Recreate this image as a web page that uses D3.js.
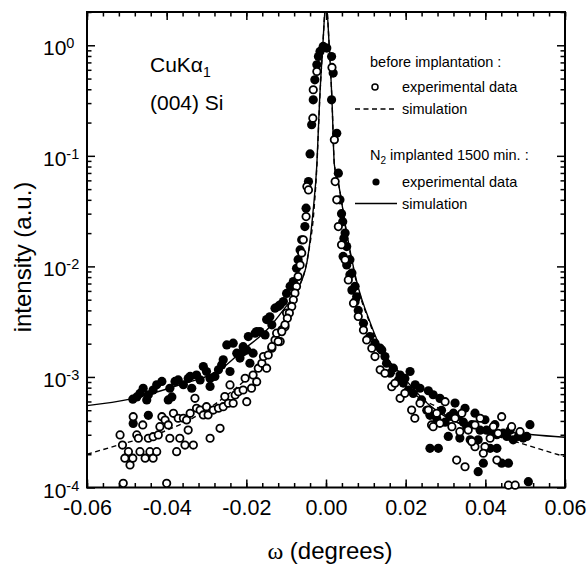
<!DOCTYPE html>
<html>
<head>
<meta charset="utf-8">
<script src="https://cdn.jsdelivr.net/npm/d3@7"></script>
<style>
  body { margin: 0; background: #fff; }
  text { font-family: Arial, "Liberation Sans", Helvetica, sans-serif; fill: #000; }
</style>
</head>
<body>
<div id="chart"></div>
<script>
// measured points, [omega (deg), intensity (a.u.)]
const implantedPoints = [
    [-0.0485, 6.3e-4], [-0.0475, 6.6e-4], [-0.0467, 7.1e-4], [-0.0459, 7.9e-4], [-0.0450, 6.2e-4],
    [-0.0446, 6.9e-4], [-0.0434, 7.6e-4], [-0.0425, 8.5e-4], [-0.0412, 9.1e-4], [-0.0396, 6.2e-4],
    [-0.0387, 6.6e-4], [-0.0392, 7.9e-4], [-0.0379, 9.1e-4], [-0.0371, 9.4e-4], [-0.0358, 8.5e-4],
    [-0.0346, 9.7e-4], [-0.0337, 7.9e-4], [-0.0341, 1.01e-3], [-0.0325, 1.04e-3], [-0.0316, 9.4e-4],
    [-0.0308, 1.24e-3], [-0.0300, 1.12e-3], [-0.0291, 9.7e-4], [-0.0291, 8.2e-4], [-0.0279, 1.01e-3],
    [-0.0270, 1.16e-3], [-0.0262, 1.28e-3], [-0.0258, 1.43e-3], [-0.0249, 1.95e-3], [-0.0241, 1.12e-3],
    [-0.0233, 2.02e-3], [-0.0224, 1.64e-3], [-0.0216, 1.48e-3], [-0.0208, 1.69e-3], [-0.0199, 1.75e-3],
    [-0.0191, 1.33e-3], [-0.0183, 1.64e-3], [-0.0178, 2.49e-3], [-0.0166, 2.57e-3], [-0.0153, 2.40e-3],
    [-0.0136, 2.96e-3], [-0.0128, 4.19e-3], [-0.0115, 4.49e-3], [-0.0107, 4.81e-3], [-0.0446, 4.5e-4],
    [-0.0484, 3.8e-4],
    [-0.0040, 0.104], [-0.0044, 5.85e-2], [-0.0050, 3.36e-2], [-0.0053, 2.29e-2], [-0.0061, 1.74e-2],
    [-0.0065, 1.41e-2], [-0.0070, 1.15e-2], [-0.0074, 9.6e-3], [-0.0082, 7.3e-3], [-0.0090, 6.6e-3],
    [-0.0099, 5.7e-3], [-0.0120, 4.34e-3], [-0.0141, 3.5e-3], [-0.0149, 3.3e-3], [-0.0174, 2.57e-3],
    [-0.0195, 2.32e-3], [-0.0208, 1.88e-3],
    [-0.0007, 0.976], [0.0002, 0.943], [-0.0015, 0.879], [-0.0019, 0.792], [0.0014, 0.792],
    [-0.0023, 0.666], [0.0018, 0.560], [-0.0028, 0.487], [-0.0032, 0.321], [0.0014, 0.321],
    [-0.0036, 0.191], [0.0027, 0.160],
    [0.0031, 6.97e-2], [0.0035, 4.0e-2], [0.0042, 2.54e-2], [0.0048, 2.0e-2], [0.0052, 1.51e-2],
    [0.0060, 1.15e-2], [0.0065, 8.7e-3], [0.0073, 6.6e-3], [0.0077, 5.3e-3], [0.0039, 3.0e-2],
    [0.0045, 1.8e-2], [0.0043, 1.23e-2], [0.0052, 1.03e-2], [0.0060, 8.4e-3], [0.0065, 6.1e-3],
    [0.0073, 4.8e-3], [0.0081, 4.0e-3], [0.0094, 3.06e-3], [0.0110, 2.32e-3], [0.0123, 2.02e-3],
    [0.0136, 1.82e-3], [0.0140, 1.75e-3], [0.0152, 1.33e-3], [0.0161, 1.08e-3], [0.0182, 9.4e-4],
    [0.0194, 8.8e-4], [0.0211, 1.12e-3], [0.0207, 7.6e-4], [0.0219, 7.1e-4], [0.0236, 7.9e-4],
    [0.0257, 7.5e-4], [0.0240, 6.2e-4], [0.0253, 5.0e-4], [0.0261, 4.5e-4], [0.0278, 4.2e-4],
    [0.0290, 5.0e-4], [0.0299, 3.9e-4], [0.0311, 4.4e-4], [0.0320, 4.7e-4], [0.0332, 4.4e-4],
    [0.0345, 3.9e-4], [0.0353, 3.55e-4], [0.0366, 3.7e-4], [0.0307, 2.9e-4], [0.0336, 2.8e-4],
    [0.0362, 2.7e-4], [0.0382, 2.7e-4], [0.0387, 3.3e-4], [0.0403, 3.3e-4], [0.0416, 3.1e-4],
    [0.0429, 3.0e-4], [0.0445, 3.1e-4], [0.0454, 2.9e-4], [0.0470, 2.7e-4], [0.0483, 2.9e-4],
    [0.0495, 2.8e-4], [0.0504, 2.9e-4], [0.0512, 3.7e-4], [0.0261, 2.26e-4], [0.0282, 2.26e-4],
    [0.0412, 2.26e-4], [0.0429, 2.26e-4], [0.0395, 1.66e-4], [0.0382, 1.39e-4], [0.0441, 1.66e-4],
    [0.0458, 1.66e-4], [0.0508, 1.13e-4],
    [0.0148, 1.53e-3], [0.0169, 1.20e-3], [0.0186, 1.04e-3], [0.0198, 9.7e-4], [0.0224, 8.5e-4],
    [0.0269, 6.9e-4], [0.0286, 6.4e-4], [0.0324, 5.8e-4], [0.0349, 5.2e-4], [0.0374, 4.7e-4],
    [0.0399, 4.1e-4], [0.0424, 3.7e-4], [0.0462, 3.3e-4], [0.0487, 3.1e-4]
]

const beforePoints = [
    [-0.0517, 2.99e-4], [-0.0511, 2.42e-4], [-0.0496, 2.11e-4], [-0.0505, 1.84e-4], [-0.0492, 1.60e-4],
    [-0.0485, 1.84e-4], [-0.0484, 4.37e-4], [-0.0475, 2.99e-4], [-0.0467, 2.11e-4], [-0.0471, 2.79e-4],
    [-0.0460, 3.68e-4], [-0.0454, 1.84e-4], [-0.0446, 2.79e-4], [-0.0442, 2.11e-4], [-0.0434, 1.84e-4],
    [-0.0425, 2.11e-4], [-0.0434, 2.88e-4], [-0.0421, 2.99e-4], [-0.0417, 3.55e-4], [-0.0412, 4.37e-4],
    [-0.0404, 4.08e-4], [-0.0396, 3.68e-4], [-0.0392, 2.79e-4], [-0.0383, 4.69e-4], [-0.0375, 2.11e-4],
    [-0.0371, 4.23e-4], [-0.0367, 2.79e-4], [-0.0358, 4.23e-4], [-0.0354, 2.42e-4], [-0.0350, 4.08e-4],
    [-0.0346, 3.31e-4], [-0.0341, 4.69e-4], [-0.0333, 2.42e-4], [-0.0329, 6.41e-4], [-0.0325, 5.21e-4],
    [-0.0316, 5.02e-4], [-0.0308, 4.53e-4], [-0.0300, 5.38e-4], [-0.0296, 4.53e-4], [-0.0291, 2.79e-4],
    [-0.0283, 5.02e-4], [-0.0270, 5.21e-4], [-0.0266, 3.43e-4], [-0.0258, 5.38e-4], [-0.0254, 6.64e-4],
    [-0.0241, 8.47e-4], [-0.0245, 5.78e-4], [-0.0233, 5.78e-4], [-0.0228, 6.87e-4], [-0.0220, 7.36e-4],
    [-0.0208, 7.62e-4], [-0.0199, 5.97e-4], [-0.0203, 9.73e-4], [-0.0187, 7.91e-4], [-0.0183, 1.04e-3],
    [-0.0174, 9.06e-4], [-0.0170, 1.20e-3], [-0.0161, 1.33e-3], [-0.0157, 1.53e-3], [-0.0149, 1.20e-3],
    [-0.0145, 1.58e-3], [-0.0136, 1.82e-3], [-0.0128, 2.16e-3], [-0.0115, 2.09e-3], [-0.0124, 2.49e-3],
    [-0.0111, 2.66e-3], [-0.0103, 2.85e-3], [-0.0099, 3.78e-3], [-0.0509, 1.09e-4], [-0.0400, 1.09e-4],
    [-0.0048, 5.27e-2], [-0.0050, 2.82e-2], [-0.0057, 1.74e-2], [-0.0061, 1.32e-2], [-0.0065, 1.03e-2],
    [-0.0070, 8.09e-3], [-0.0074, 6.57e-3], [-0.0078, 5.73e-3], [-0.0082, 4.98e-3], [-0.0086, 4.34e-3],
    [-0.0092, 3.78e-3], [-0.0097, 3.40e-3], [-0.0103, 2.96e-3], [-0.0111, 2.57e-3], [-0.0120, 2.09e-3],
    [-0.0136, 1.88e-3],
    [0.0015, 0.63], [-0.0023, 0.579], [-0.0032, 0.396], [-0.0033, 0.219], [0.0021, 0.140],
    [-0.0044, 4.92e-2],
    [0.0023, 5.85e-2], [0.0027, 4.0e-2], [0.0031, 2.29e-2], [0.0039, 1.57e-2], [0.0048, 1.15e-2],
    [0.0056, 7.55e-3], [0.0069, 4.65e-3], [0.0081, 3.52e-3], [0.0094, 2.66e-3], [0.0115, 1.82e-3],
    [0.0136, 1.16e-3], [0.0165, 8.17e-4], [0.0186, 6.41e-4], [0.0215, 5.02e-4], [0.0223, 4.23e-4],
    [0.0257, 5.02e-4], [0.0265, 3.68e-4], [0.0286, 3.81e-4], [0.0299, 5.97e-4], [0.0269, 3.55e-4],
    [0.0316, 3.55e-4], [0.0341, 4.69e-4], [0.0336, 3.20e-4], [0.0357, 3.31e-4], [0.0374, 2.34e-4],
    [0.0387, 4.23e-4], [0.0399, 2.34e-4], [0.0395, 2.04e-4], [0.0420, 3.55e-4], [0.0441, 4.37e-4],
    [0.0466, 3.55e-4], [0.0328, 1.77e-4], [0.0349, 1.54e-4], [0.0429, 1.77e-4], [0.0458, 1.05e-4],
    [0.0475, 1.05e-4], [0.0412, 2.79e-4], [0.0366, 2.60e-4],
    [0.0102, 2.16e-3], [0.0123, 1.53e-3], [0.0148, 1.08e-3], [0.0173, 8.77e-4], [0.0198, 7.11e-4],
    [0.0236, 5.78e-4], [0.0278, 4.69e-4], [0.0324, 4.23e-4], [0.0374, 3.68e-4], [0.0432, 3.09e-4],
    [0.0487, 3.20e-4]
]

// simulated curves
const simImplanted = [
    [-0.06, 5.5e-4], [-0.0492, 6.3e-4], [-0.0367, 8.5e-4], [-0.0266, 1.16e-3], [-0.0198, 1.88e-3],
    [-0.0166, 2.32e-3], [-0.0141, 2.85e-3], [-0.0108, 4.0e-3], [-0.0073, 6.1e-3], [-0.0048, 1.08e-2],
    [-0.0033, 3.0e-2], [-0.0023, 8.3e-2], [-0.0016, 0.32], [-0.0008, 1.0], [0, 2.5],
    [0.0008, 1.0], [0.0015, 0.32], [0.0021, 0.083], [0.0031, 5.7e-2], [0.0052, 2.0e-2],
    [0.0078, 7.1e-3], [0.0111, 3.1e-3], [0.0140, 1.75e-3], [0.0186, 1.08e-3], [0.0261, 5.5e-4],
    [0.0344, 3.7e-4], [0.0437, 3.25e-4], [0.0520, 3.0e-4], [0.06, 2.85e-4]
]

const simBefore = [
    [-0.06, 2.0e-4], [-0.0525, 2.4e-4], [-0.0399, 3.3e-4], [-0.0342, 4.1e-4], [-0.0211, 8.8e-4],
    [-0.0183, 1.08e-3], [-0.0141, 1.75e-3], [-0.0103, 3.3e-3], [-0.0070, 6.1e-3], [-0.0045, 1.27e-2],
    [-0.0030, 3.3e-2], [-0.0023, 8.0e-2], [-0.0016, 0.31], [-0.0008, 1.0], [0, 2.5],
    [0.0008, 1.0], [0.0015, 0.32], [0.0021, 0.083], [0.0031, 5.7e-2], [0.0052, 1.95e-2],
    [0.0078, 6.8e-3], [0.0111, 3.0e-3], [0.0140, 1.6e-3], [0.0186, 9.5e-4], [0.0236, 6.4e-4],
    [0.0279, 5.3e-4], [0.0304, 4.4e-4], [0.0387, 3.3e-4], [0.0507, 2.4e-4], [0.06, 1.9e-4]
]

const xMajorTicks = [-0.06, -0.04, -0.02, 0, 0.02, 0.04, 0.06]
const xMinorTicks = d3.range(-60, 61, 4).map(d => d / 1000)
const yMajorTicks = [1e-4, 1e-3, 1e-2, 1e-1, 1]
const yMinorTicks = yMajorTicks.flatMap(p => d3.range(2, 10).map(k => k * p)).filter(v => v <= 2)

const width = 588, height = 566
const plot = { left: 87, right: 565, top: 12, bottom: 487.5 }

const x = d3.scaleLinear().domain([-0.06, 0.06]).range([plot.left, plot.right])
const y = d3.scaleLog().domain([1e-4, 2]).range([plot.bottom, plot.top])

const svg = d3.select("#chart").append("svg")
    .attr("width", width)
    .attr("height", height)

svg.append("defs").append("clipPath")
    .attr("id", "plotClip")
    .append("rect")
    .attr("x", plot.left)
    .attr("y", plot.top)
    .attr("width", plot.right - plot.left)
    .attr("height", plot.bottom - plot.top)

// ticks on all four sides, pointing inward
const addAxis = (axis, tx, ty, values, size, labels) => {
    const g = svg.append("g")
        .attr("transform", `translate(${tx},${ty})`)
        .call(axis.tickValues(values).tickSizeInner(-size).tickSizeOuter(0))
    g.select(".domain").remove()
    g.selectAll(".tick line").attr("stroke", "#000").attr("stroke-width", 1.5)
    if (!labels) g.selectAll(".tick text").remove()
    return g
}

addAxis(d3.axisBottom(x), 0, plot.bottom, xMinorTicks, 4.5, false)
addAxis(d3.axisTop(x), 0, plot.top, xMinorTicks, 4.5, false)
addAxis(d3.axisTop(x), 0, plot.top, xMajorTicks, 8, false)
const bottomAxis = addAxis(d3.axisBottom(x).tickPadding(12).tickFormat(d => d.toFixed(2)),
    0, plot.bottom, xMajorTicks, 8, true)
bottomAxis.selectAll(".tick text")
    .attr("font-size", 21.5)
    .attr("font-family", "Arial, 'Liberation Sans', sans-serif")

addAxis(d3.axisLeft(y), plot.left, 0, yMinorTicks, 4.5, false)
addAxis(d3.axisRight(y), plot.right, 0, yMinorTicks, 4.5, false)
addAxis(d3.axisRight(y), plot.right, 0, yMajorTicks, 8, false)
const leftAxis = addAxis(d3.axisLeft(y), plot.left, 0, yMajorTicks, 8, true)
leftAxis.selectAll(".tick text").each(function(d) {
    const t = d3.select(this)
        .text(null)
        .attr("x", -44)
        .attr("dy", null)
        .attr("y", 9.5)
        .attr("text-anchor", "start")
        .attr("font-size", 21)
        .attr("font-family", "Arial, 'Liberation Sans', sans-serif")
    t.append("tspan").text("10")
    t.append("tspan").attr("dy", -7).attr("font-size", 14.5).text(Math.round(Math.log10(d)))
})

// frame
svg.append("rect")
    .attr("x", plot.left)
    .attr("y", plot.top)
    .attr("width", plot.right - plot.left)
    .attr("height", plot.bottom - plot.top)
    .attr("fill", "none")
    .attr("stroke", "#000")
    .attr("stroke-width", 2)

const line = d3.line()
    .x(d => x(d[0]))
    .y(d => y(d[1]))
    .curve(d3.curveMonotoneX)

const curves = svg.append("g").attr("clip-path", "url(#plotClip)")
curves.append("path")
    .datum(simBefore)
    .attr("d", line)
    .attr("fill", "none")
    .attr("stroke", "#000")
    .attr("stroke-width", 1.4)
    .attr("stroke-dasharray", "5,3.5")
curves.append("path")
    .datum(simImplanted)
    .attr("d", line)
    .attr("fill", "none")
    .attr("stroke", "#000")
    .attr("stroke-width", 1.4)

svg.append("g").selectAll("circle")
    .data(implantedPoints)
    .join("circle")
    .attr("cx", d => x(d[0]))
    .attr("cy", d => y(d[1]))
    .attr("r", 4.6)
    .attr("fill", "#000")

svg.append("g").selectAll("circle")
    .data(beforePoints)
    .join("circle")
    .attr("cx", d => x(d[0]))
    .attr("cy", d => y(d[1]))
    .attr("r", 3.7)
    .attr("fill", "#fff")
    .attr("stroke", "#000")
    .attr("stroke-width", 1.8)

// axis titles
svg.append("text")
    .attr("x", 330)
    .attr("y", 559)
    .attr("text-anchor", "middle")
    .attr("font-size", 24)
    .call(t => {
        t.append("tspan").attr("font-family", "'Liberation Serif', 'DejaVu Serif', serif").text("ω")
        t.append("tspan").text(" (degrees)")
    })

svg.append("text")
    .attr("transform", "translate(31,257) rotate(-90)")
    .attr("text-anchor", "middle")
    .attr("font-size", 24)
    .text("intensity (a.u.)")

// annotations
svg.append("text")
    .attr("x", 150)
    .attr("y", 72)
    .attr("font-size", 21)
    .call(t => {
        t.append("tspan").text("CuK")
        t.append("tspan").text("α")
        t.append("tspan").attr("dy", 5).attr("font-size", 14).text("1")
    })

svg.append("text")
    .attr("x", 150)
    .attr("y", 110)
    .attr("font-size", 21)
    .text("(004) Si")

// legend
const legend = svg.append("g").attr("font-size", 14.5)
legend.append("text").attr("x", 370).attr("y", 67).text("before implantation :")
legend.append("circle").attr("cx", 375).attr("cy", 87).attr("r", 3)
    .attr("fill", "#fff").attr("stroke", "#000").attr("stroke-width", 1.5)
legend.append("text").attr("x", 402).attr("y", 92).text("experimental data")
legend.append("line").attr("x1", 355).attr("x2", 397).attr("y1", 109).attr("y2", 109)
    .attr("stroke", "#000").attr("stroke-width", 1.3).attr("stroke-dasharray", "5,3.5")
legend.append("text").attr("x", 402).attr("y", 114).text("simulation")

legend.append("text").attr("x", 370).attr("y", 160)
    .call(t => {
        t.append("tspan").text("N")
        t.append("tspan").attr("dy", 4).attr("font-size", 10).text("2")
        t.append("tspan").attr("dy", -4).text(" implanted 1500 min. :")
    })
legend.append("circle").attr("cx", 376).attr("cy", 182).attr("r", 3.6).attr("fill", "#000")
legend.append("text").attr("x", 402).attr("y", 187).text("experimental data")
legend.append("line").attr("x1", 355).attr("x2", 397).attr("y1", 203.5).attr("y2", 203.5)
    .attr("stroke", "#000").attr("stroke-width", 1.3)
legend.append("text").attr("x", 402).attr("y", 208.5).text("simulation")
</script>
</body>
</html>
